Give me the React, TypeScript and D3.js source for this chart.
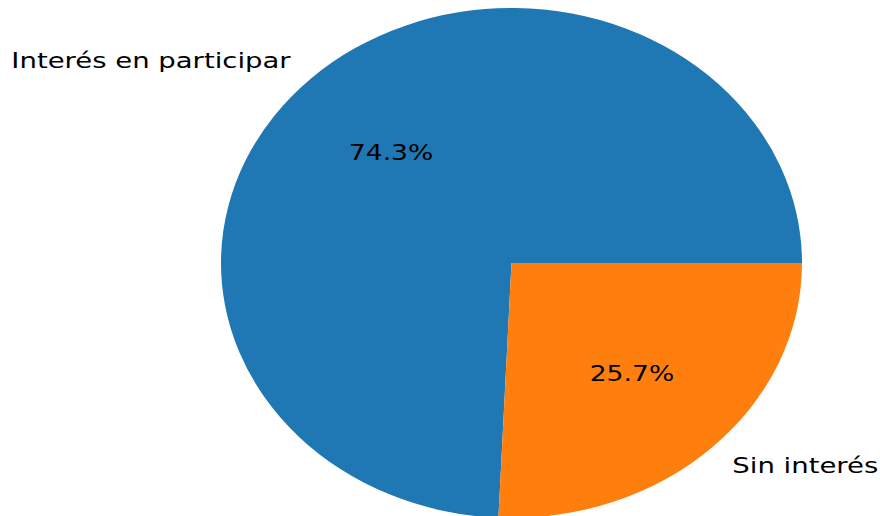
import React from "react";
import * as d3 from "d3";

const categories = ["Interés en participar", "Sin interés"];
const values = [26, 9];
const colors = ["#1f77b4", "#ff7f0e"];

export default function App() {
  const W = 880, H = 516;
  const cx = 511.5, cy = 263, rx = 290.5, ry = 255;
  const pie = d3.pie<number>().sort(null).startAngle(Math.PI / 2).endAngle(Math.PI / 2 - 2 * Math.PI);
  const arcs = pie(values);
  const arc = d3.arc<d3.PieArcDatum<number>>().innerRadius(0).outerRadius(1);
  const total = d3.sum(values);
  const font = "DejaVu Sans, sans-serif";
  const fs = 22;
  const sxLabel = 1.25;
  const sxPct = 1.21;
  return (
    <svg width={W} height={H} style={{ position: "absolute", left: 0, top: 0 }}>
      <rect width={W} height={H} fill="#fff" />
      <g transform={`translate(${cx},${cy}) scale(${rx},${ry})`}>
        {arcs.map((a, i) => (
          <path key={i} d={arc(a) || ""} fill={colors[i]} />
        ))}
      </g>
      {arcs.map((a, i) => {
        const mid = (a.startAngle + a.endAngle) / 2;
        const dx = Math.sin(mid), dy = -Math.cos(mid);
        const lx = cx + 1.1 * rx * dx, ly = cy + 1.1 * ry * dy;
        const px = cx + 0.6 * rx * dx, py = cy + 0.6 * ry * dy;
        const pct = ((values[i] / total) * 100).toFixed(1) + "%";
        return (
          <g key={i} fontFamily={font} fontSize={fs} fill="#000">
            <text transform={`translate(${lx},${ly}) scale(${sxLabel},1)`} textAnchor={dx < 0 ? "end" : "start"} dominantBaseline="central">
              {categories[i]}
            </text>
            <text transform={`translate(${px},${py}) scale(${sxPct},1)`} textAnchor="middle" dominantBaseline="central">
              {pct}
            </text>
          </g>
        );
      })}
    </svg>
  );
}
